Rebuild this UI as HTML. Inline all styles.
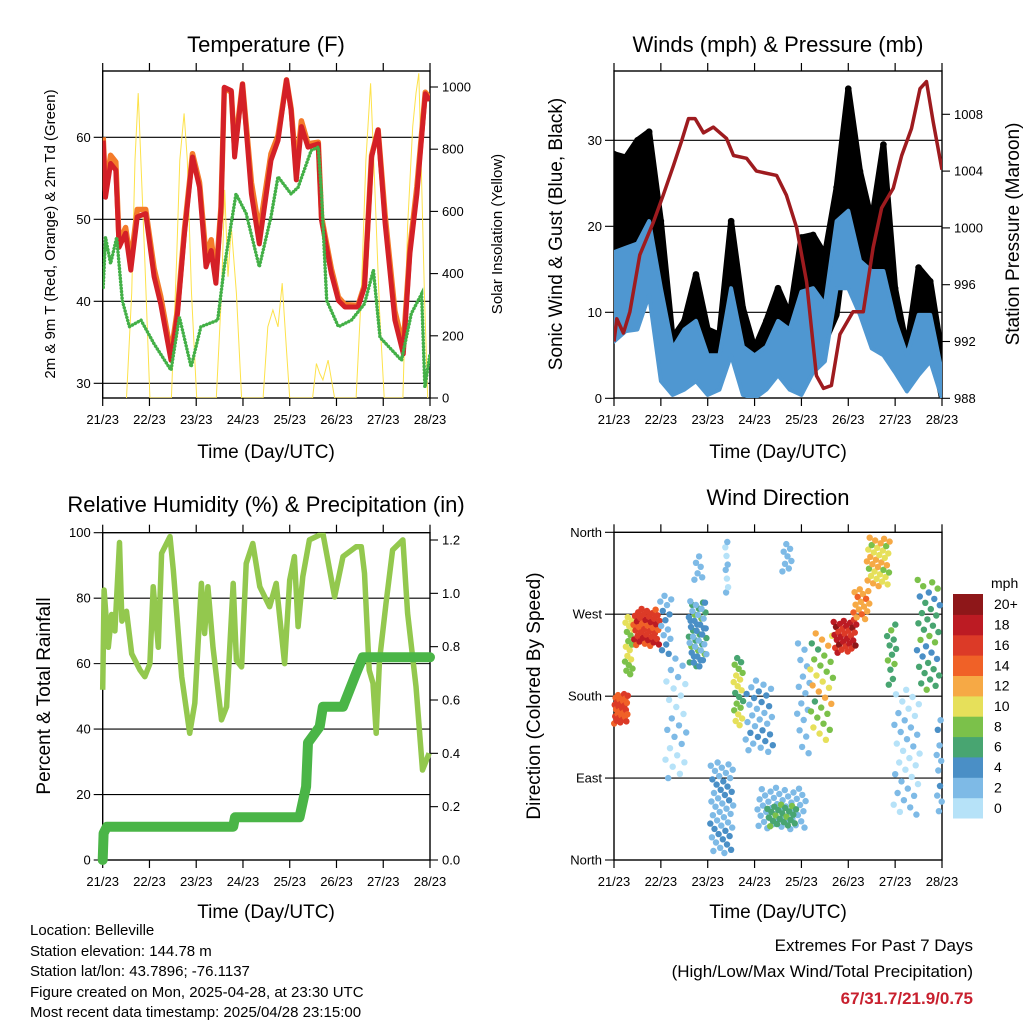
<!DOCTYPE html>
<html><head><meta charset="utf-8"><title>Weather station chart</title>
<style>
html,body{margin:0;padding:0;background:#fff;}
svg{display:block;font-family:"Liberation Sans",Arial,sans-serif;}
</style></head>
<body>
<svg id="chart" width="1024" height="1024" viewBox="0 0 1024 1024" xmlns="http://www.w3.org/2000/svg">
<rect width="1024" height="1024" fill="#fff"/>
<g id="layer"></g>
<g font-size="15" fill="#000">
<text x="30" y="935">Location: Belleville</text>
<text x="30" y="956">Station elevation: 144.78 m</text>
<text x="30" y="976">Station lat/lon: 43.7896; -76.1137</text>
<text x="30" y="997">Figure created on Mon, 2025-04-28, at 23:30 UTC</text>
<text x="30" y="1017">Most recent data timestamp: 2025/04/28 23:15:00</text>
</g>
<g text-anchor="end">
<text x="973" y="951" font-size="17">Extremes For Past 7 Days</text>
<text x="973" y="977" font-size="17">(High/Low/Max Wind/Total Precipitation)</text>
<text x="973" y="1004" font-size="17" font-weight="bold" fill="#c8202e">67/31.7/21.9/0.75</text>
</g>
</svg>
<script>
// ---------- shared ----------
const dayLabels = ["21/23","22/23","23/23","24/23","25/23","26/23","27/23","28/23"];
// ---------- Temperature panel ----------
const tempT = [0.01,0.06,0.17,0.28,0.35,0.49,0.6,0.74,0.92,1.1,1.24,1.46,1.6,1.75,1.92,2.07,2.21,2.32,2.42,2.53,2.6,2.75,2.82,2.99,3.18,3.35,3.6,3.75,3.93,4.03,4.14,4.25,4.39,4.61,4.68,4.89,5.04,5.18,5.46,5.6,5.75,5.89,6.04,6.25,6.43,6.57,6.72,6.9,7.0];
const temp2m = [59.6,52.7,56.8,56,46.6,48.3,43.8,50.3,50.7,43,39.7,32.8,38.5,48.3,57.6,53.9,44.2,46.2,42.2,51.1,66.1,65.7,57.6,66.5,53.1,47,57.2,59.6,67,63.3,54.8,61.3,58.8,59.2,49.9,43.4,40.1,39.3,39.3,41.7,57.6,60.9,49.5,37.7,33.6,45.8,53.1,65.3,64.5];
const temp9m = [60,53.5,57.8,57,47.2,49,44.8,51.2,51.2,44,40.6,33.6,39,48.8,58,54.5,45.5,47.5,43,51.5,66,65.5,58.5,66.5,54.5,48.5,58,60.2,67,63.5,56,62,59.2,59.4,50.3,44,40.5,39.6,39.5,42,57.8,60.9,50.5,38.8,34.5,46.5,54,65.5,64.8];
const dewT = [0.01,0.06,0.17,0.3,0.42,0.57,0.82,1.1,1.46,1.64,1.89,2.1,2.46,2.6,2.85,3.07,3.35,3.6,3.75,4.03,4.18,4.46,4.61,4.68,4.79,5.04,5.32,5.6,5.79,5.93,6.39,6.6,6.82,6.89,7.0];
const dew2m = [41.7,47.8,44.6,47.8,40.1,36.9,37.7,34.8,31.6,38.1,32,36.9,37.7,44.2,53.1,50.7,44.2,50.3,55.2,53.1,53.9,58.4,58.8,53.1,40.1,36.9,37.7,39.7,43.8,35.6,32.8,38.5,40.9,29.5,33.6];
const solarT = [0.51,0.62,0.69,0.76,0.83,0.9,1.01, 1.47,1.58,1.65,1.74,1.81,1.9,2.01, 2.43,2.54,2.61,2.68,2.75,2.86,2.97, 3.43,3.53,3.64,3.75,3.84,3.93,4.0, 4.49,4.57,4.64,4.71,4.82,4.96, 5.42,5.53,5.63,5.73,5.81,5.92,6.02, 6.42,6.52,6.63,6.7,6.76,6.81,6.88,6.95];
const solarV = [0,337,765,980,712,444,0, 0,444,765,915,765,337,0, 0,337,669,390,551,337,0, 0,229,283,229,369,154,0, 0,111,79,58,122,0, 0,337,765,1012,712,283,0, 0,551,872,980,1044,765,337,0];
const tempTicks = [30,40,50,60];
const solarTicks = [0,200,400,600,800,1000];
// ---------- Wind panel ----------
const windT = [0,0.25,0.5,0.75,1,1.25,1.5,1.75,2,2.25,2.5,2.75,3,3.25,3.5,3.75,4,4.25,4.5,4.75,5,5.25,5.5,5.75,6,6.25,6.5,6.75,7];
const gustHi = [28.4,28,30,31,20.6,7,9,14.4,8,7.4,20.6,10.5,5.8,9,12.8,9.7,18.7,19,16.7,24.5,36,26.4,20.6,29.5,12.8,5.8,15.2,13.6,5];
const gustLo = [12,13,14,16,5,1,2.7,5,2,2.7,6.6,2,1.5,3,5,2.7,1,8,6.6,9.7,20.6,12.8,10.9,12,5.8,2.3,5,6.6,0];
const windHi = [17,17.5,18,20.6,12.8,5.8,8,9,5,5,12.8,6,5,6,9,8,12.4,12.8,10.9,20.6,21.8,16,14.8,14.8,9,5,9.7,9.7,3];
const windLo = [6.6,7.8,8,12,2,0.4,1,2,0.4,1,5,0.4,0,1,2.7,1,0.4,3,4.3,12.8,12.8,9.7,5.8,5,3,0.8,2.7,4.3,0];
const presT = [0,0.06,0.2,0.34,0.55,0.84,1.05,1.27,1.44,1.59,1.73,1.91,2.12,2.4,2.55,2.83,3.04,3.47,3.68,3.9,4.11,4.32,4.47,4.64,4.82,5.1,5.32,5.53,5.71,5.96,6.14,6.35,6.53,6.67,6.81,7.0];
const presV = [992,993.6,992.6,994.1,998.1,1000.4,1002.3,1004.4,1006.1,1007.7,1007.7,1006.7,1007.1,1006.3,1005.1,1004.9,1004,1003.7,1002.3,1000,996.2,989.6,988.7,988.9,992.5,994.1,994.1,998.6,1001.4,1002.8,1005.1,1007,1009.8,1010.3,1007.5,1004.1];
const windTicks = [0,10,20,30];
const presTicks = [988,992,996,1000,1004,1008];
// ---------- RH panel ----------
const rhT = [0,0.03,0.12,0.19,0.26,0.36,0.41,0.51,0.62,0.8,0.9,1.01,1.08,1.19,1.26,1.44,1.51,1.69,1.86,1.97,2.11,2.18,2.25,2.36,2.54,2.65,2.79,2.86,2.97,3.07,3.21,3.36,3.57,3.71,3.89,4.0,4.1,4.18,4.28,4.42,4.71,4.96,5.14,5.42,5.53,5.6,5.7,5.78,5.85,5.92,6.06,6.2,6.42,6.52,6.7,6.84,6.98];
const rhV = [52,82.5,65,75,70,97,73,76,63,58,56,60,83.5,65,93.7,98.8,88.6,56,38.7,47.9,84.5,69.2,83.5,65,42.8,46.8,84.5,61,59,90.6,96.7,83.5,77.4,84.5,60,85.5,92.7,71.3,86.6,97.8,99.8,80.4,92.7,95.7,95.7,87.6,58,54,38.7,61,78.4,94.7,97.8,75.4,53,27.5,32.6];
const rainT = [0,0.02,0.09,2.79,2.83,4.21,4.35,4.39,4.64,4.71,5.14,5.42,5.56,7.0];
const rainV = [0,0.1,0.125,0.125,0.16,0.16,0.275,0.44,0.5,0.575,0.575,0.7,0.76,0.76];
const rhTicks = [0,20,40,60,80,100];
const rainTicks = [0,0.2,0.4,0.6,0.8,1.0,1.2];
// ---------- Wind direction panel (clusters of observations) ----------
const dirT0 = [0,0.23,0.41,0.98,1.09,1.59,1.59,1.7,2.05,2.55,2.37,2.8,3.05,3.26,3.58,3.9,4.18,4.68,5.1,5.39,5.82,5.96,6.46,6.88];
const dirT1 = [0.3,0.41,0.98,1.23,1.55,1.98,1.98,1.9,2.55,2.76,2.44,3.4,4.1,3.9,3.8,4.18,4.68,5.18,5.46,5.89,6.03,6.53,6.96,7.0];
const dirLo = [150,198,234,223,88,212,212,307,7,146,285,117,33,37,315,117,132,227,264,300,190,48,183,37];
const dirHi = [183,267,276,293,227,286,286,337,110,227,350,198,80,62,350,242,253,264,300,355,260,190,308,154];
const spdLo = [14,8,15,3,1,5,3,2,2,6,1,2,2,6,2,2,7,16,12,9,6,1,5,2];
const spdHi = [18,12,19,5,3,9,5,4,5,12,3,5,4,9,4,4,13,21,15,14,9,3,9,5];
const dirCount = [30,18,40,14,24,22,26,6,45,20,8,30,45,22,8,16,30,30,16,34,12,34,34,10];
const dirTickNames = ["North","East","South","West","North"];
const dirTickVals = [0,90,180,270,360];
const speedBinLabels = ["0","2","4","6","8","10","12","14","16","18","20+"];
const speedBinColors = ["#b6e2f8","#7ebae6","#4a8fc6","#48a571","#7bc14a","#e6e05a","#f6a945","#f06127","#dc3a27","#bc1b23","#8e1719"];

// ---------- drawing helpers ----------
const NS = "http://www.w3.org/2000/svg";
const layer = document.getElementById("layer");
function mk(tag, attrs, parent){
  const e = document.createElementNS(NS, tag);
  for (const k in attrs) e.setAttribute(k, attrs[k]);
  (parent||layer).appendChild(e);
  return e;
}
function txt(s, attrs, parent){ const e = mk("text", attrs, parent); e.textContent = s; return e; }
function lin(lo,hi,p0,p1){ return v => p0 + (v-lo)/(hi-lo)*(p1-p0); }
function pts(xs, ys, fx, fy){ return xs.map((t,i)=> fx(t).toFixed(1)+","+fy(ys[i]).toFixed(1)).join(" "); }

function frame(P, name){
  const g = mk("g", {});
  
  
  dayLabels.forEach((lab,i)=>{
    const x = P.sx(i);
    mk("line",{x1:x,y1:P.y0-8,x2:x,y2:P.y0,stroke:"#000","stroke-width":1.2},g);
    mk("line",{x1:x,y1:P.y1,x2:x,y2:P.y1+8,stroke:"#000","stroke-width":1.2},g);
    const t = txt(lab,{x:x,y:P.y1+26,"font-size":13,"text-anchor":"middle"},g);
    
    
  });
  return g;
}
function border(P,g){
  mk("rect",{x:P.x0,y:P.y0,width:P.x1-P.x0,height:P.y1-P.y0,fill:"none",stroke:"#000","stroke-width":1.4},g);
}
function leftAxis(P,ticks,fy,labels,g,grid){
  ticks.forEach((v,i)=>{
    const y = fy(v);
    if (grid && y>P.y0+1 && y<P.y1-1) mk("line",{x1:P.x0-9,y1:y,x2:P.x1,y2:y,stroke:"#000","stroke-width":1.1},g);
    else mk("line",{x1:P.x0-9,y1:y,x2:P.x0,y2:y,stroke:"#000","stroke-width":1.1},g);
    const t = txt(labels?labels[i]:String(v),{x:P.x0-12,y:y+4.5,"font-size":13,"text-anchor":"end"},g);
    
    
  });
}
function rightAxis(P,ticks,fy,fmt,g){
  ticks.forEach(v=>{
    const y = fy(v);
    mk("line",{x1:P.x1,y1:y,x2:P.x1+8,y2:y,stroke:"#000","stroke-width":1.1},g);
    const t = txt(fmt(v),{x:P.x1+12,y:y+4.5,"font-size":13},g);
    
    
  });
}
function title(s,x,y,name){
  const t = txt(s,{x:x,y:y,"font-size":22,"text-anchor":"middle"});
  
  
}
function vtitle(s,x,y,size,name){
  const t = txt(s,{x:0,y:0,"font-size":size,"text-anchor":"middle",transform:`translate(${x},${y}) rotate(-90)`});
  
  
}
function xtitle(x,y){
  const t = txt("Time (Day/UTC)",{x:x,y:y,"font-size":19,"text-anchor":"middle"});
  
  
}

// ---------- Panel 1: Temperature ----------
(function(){
  const P = {x0:102.7,x1:430,y0:71,y1:398};
  P.sx = lin(0,7,P.x0,P.x1);
  const fy = lin(30,60,383.3,137.3);
  const fs = lin(0,1000,398,87);
  const g = frame(P,"temperature");
  leftAxis(P,tempTicks,fy,null,g,true);
  rightAxis(P,solarTicks,fs,v=>String(v),g);
  const clip = mk("clipPath",{id:"c1"}); mk("rect",{x:P.x0,y:P.y0,width:P.x1-P.x0,height:P.y1-P.y0},clip);
  const d = mk("g",{"clip-path":"url(#c1)"});
  const s = mk("polyline",{points:pts(solarT,solarV,P.sx,fs),fill:"none",stroke:"#fde24a","stroke-width":1},d);
  
  
  const o = mk("polyline",{points:pts(tempT,temp9m,P.sx,fy),fill:"none",stroke:"#f47b2a","stroke-width":5.5,"stroke-linejoin":"round"},d);
  
  
  const r = mk("polyline",{points:pts(tempT,temp2m,P.sx,fy),fill:"none",stroke:"#d42027","stroke-width":5,"stroke-linejoin":"round"},d);
  
  
  const gr = mk("polyline",{points:pts(dewT,dew2m,P.sx,fy),fill:"none",stroke:"#43b047","stroke-width":3.5,"stroke-dasharray":"0.1 3.2","stroke-linecap":"round"},d);
  
  
  border(P,g);
  title("Temperature (F)",266,52,"temperature-title");
  xtitle(266,458);
  vtitle("2m & 9m T (Red, Orange) & 2m Td (Green)",55,234,15,"temperature-y-title");
  vtitle("Solar Insolation (Yellow)",502,234,15,"solar-y-title");
})();

// ---------- Panel 2: Winds & Pressure ----------
(function(){
  const P = {x0:614,x1:942,y0:71,y1:398};
  P.sx = lin(0,7,P.x0,P.x1);
  const fy = lin(0,30,398.3,140.3);
  const fp = lin(988,1008,398.3,114.3);
  const g = frame(P,"winds");
  leftAxis(P,windTicks,fy,null,g,true);
  rightAxis(P,presTicks,fp,v=>String(v),g);
  const clip = mk("clipPath",{id:"c2"}); mk("rect",{x:P.x0,y:P.y0,width:P.x1-P.x0,height:P.y1-P.y0},clip);
  const d = mk("g",{"clip-path":"url(#c2)"});
  const gustBand = pts(windT,gustHi,P.sx,fy)+" "+pts(windT.slice().reverse(),gustLo.slice().reverse(),P.sx,fy);
  const gb = mk("polygon",{points:gustBand,fill:"#000",stroke:"#000","stroke-width":6,"stroke-linejoin":"round"},d);
  
  
  windT.forEach((t,i)=>{
    const c = mk("circle",{cx:P.sx(t),cy:fy(gustHi[i]),r:3.3,fill:"#000"},d);
    
    
  });
  const windBand = pts(windT,windHi,P.sx,fy)+" "+pts(windT.slice().reverse(),windLo.slice().reverse(),P.sx,fy);
  const wb = mk("polygon",{points:windBand,fill:"#4f97d1",stroke:"#4f97d1","stroke-width":4,"stroke-linejoin":"round"},d);
  
  
  const pl = mk("polyline",{points:pts(presT,presV,P.sx,fp),fill:"none",stroke:"#9e1b1f","stroke-width":3.5,"stroke-linejoin":"round"},d);
  
  
  border(P,g);
  title("Winds (mph) & Pressure (mb)",778,52,"winds-title");
  xtitle(778,458);
  vtitle("Sonic Wind & Gust (Blue, Black)",562,234,19,"wind-y-title");
  vtitle("Station Pressure (Maroon)",1019,234,19,"pressure-y-title");
})();

// ---------- Panel 3: RH & Precip ----------
(function(){
  const P = {x0:102.7,x1:430,y0:532.7,y1:860};
  P.sx = lin(0,7,P.x0,P.x1);
  const fy = lin(0,100,860,532.7);
  const fr = lin(0,1.2,860,540);
  const g = frame(P,"humidity");
  leftAxis(P,rhTicks,fy,null,g,true);
  rightAxis(P,rainTicks,fr,v=>v.toFixed(1),g);
  const clip = mk("clipPath",{id:"c3"}); mk("rect",{x:P.x0-6,y:P.y0,width:P.x1-P.x0+12,height:P.y1-P.y0+6},clip);
  const d = mk("g",{"clip-path":"url(#c3)"});
  const rh = mk("polyline",{points:pts(rhT,rhV,P.sx,fy),fill:"none",stroke:"#93c84e","stroke-width":5.5,"stroke-linejoin":"round"},d);
  
  
  const rn = mk("polyline",{points:pts(rainT,rainV,P.sx,fr),fill:"none",stroke:"#4ab547","stroke-width":10,"stroke-linejoin":"round","stroke-linecap":"round"},d);
  
  
  border(P,g);
  title("Relative Humidity (%) & Precipitation (in)",266,512,"humidity-title");
  xtitle(266,918);
  vtitle("Percent & Total Rainfall",50,696,19,"humidity-y-title");
})();

// ---------- Panel 4: Wind direction ----------
(function(){
  const P = {x0:614,x1:942,y0:532.3,y1:860};
  P.sx = lin(0,7,P.x0,P.x1);
  const fy = lin(0,360,860,532.3);
  const g = frame(P,"wind-direction");
  leftAxis(P,dirTickVals,fy,dirTickNames,g,true);
  const colorFor = s => speedBinColors[Math.min(10,Math.max(0,Math.floor(s/2)))];
  const d = mk("g",{});
  
  
  dirT0.forEach((t0,k)=>{
    const n = dirCount[k];
    for (let i=0;i<n;i++){
      const a = (i+0.5)/n;
      const b = (i*0.618034 + k*0.29)%1;
      const t = t0 + (dirT1[k]-t0)*a;
      const dir = dirLo[k] + (dirHi[k]-dirLo[k])*b;
      const sp = spdLo[k] + (spdHi[k]-spdLo[k])*((i*0.7548+k*0.1)%1);
      const c = mk("circle",{cx:P.sx(t).toFixed(1),cy:fy(dir).toFixed(1),r:3.2,fill:colorFor(sp)},d);
      
      
    }
  });
  border(P,g);
  title("Wind Direction",778,505,"wind-direction-title");
  xtitle(778,918);
  vtitle("Direction (Colored By Speed)",540,696,19,"direction-y-title");
  const cb = mk("g",{});
  
  
  const top = 594, h = (818-594)/11;
  speedBinColors.forEach((c,i)=>{
    const y = top + (10-i)*h;
    const r = mk("rect",{x:953,y:y.toFixed(1),width:30,height:(h+0.5).toFixed(1),fill:c},cb);
    
    
    const t = txt(speedBinLabels[i],{x:994,y:(y+h/2+5).toFixed(1),"font-size":14},cb);
    
    
  });
  const u = txt("mph",{x:991,y:588,"font-size":14},cb);
  
  
})();
</script>
</body></html>
